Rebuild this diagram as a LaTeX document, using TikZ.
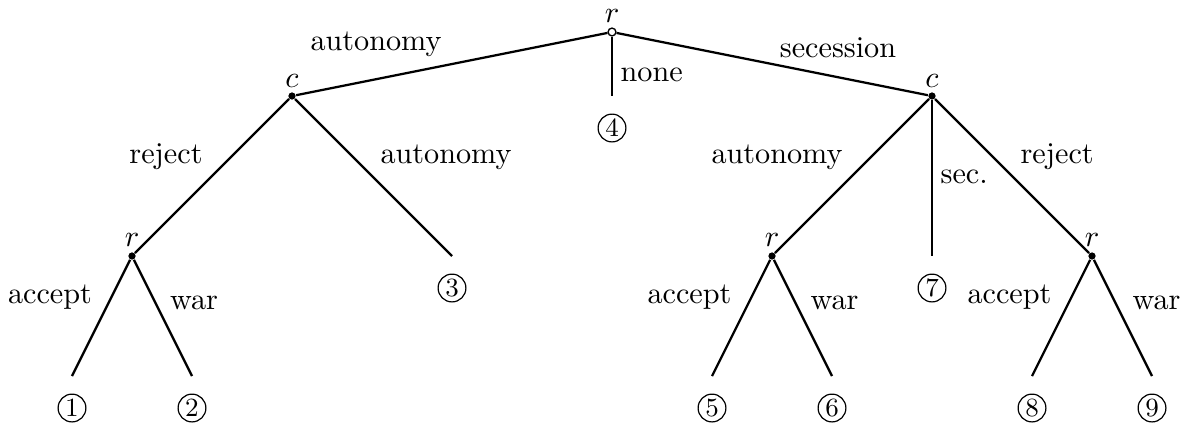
\documentclass[tikz,border=0pt]{standalone}
\begin{document}
\begin{tikzpicture}[x=0.331pt,y=-0.331pt,
  edge/.style={line width=0.75pt},
  dec/.style={circle,fill,inner sep=0pt,minimum size=2.4pt},
  rootdec/.style={circle,draw,fill=white,line width=0.45pt,inner sep=0pt,minimum size=2.6pt},
  pay/.style={circle,draw,line width=0.4pt,inner sep=0pt,minimum size=9.2pt,font=\fontsize{8.7}{9}\selectfont},
  lab/.style={inner sep=0pt}]
\useasboundingbox (0,0) rectangle (1183,427);

% decision nodes
\node[rootdec] (r0) at (612,32) {};
\node[dec] (c1) at (292,96) {};
\node[dec] (c2) at (932,96) {};
\node[dec] (r1) at (132,256) {};
\node[dec] (r2) at (772,256) {};
\node[dec] (r3) at (1092,256) {};

% player names
\node[lab,anchor=base] (n0) at (612,22) {$r$};
\node[lab,anchor=base] (n1) at (292,87) {$c$};
\node[lab,anchor=base] (n2) at (932,87) {$c$};
\node[lab,anchor=base] (n3) at (132,246) {$r$};
\node[lab,anchor=base] (n4) at (772,246) {$r$};
\node[lab,anchor=base] (n5) at (1092,246) {$r$};

% branch ends
\coordinate (e1) at (72,376);
\coordinate (e2) at (192,376);
\coordinate (e3) at (452,256);
\coordinate (e4) at (612,96);
\coordinate (e5) at (712,376);
\coordinate (e6) at (832,376);
\coordinate (e7) at (932,256);
\coordinate (e8) at (1032,376);
\coordinate (e9) at (1152,376);

% outcomes
\node[pay] (o1) at (72,408) {1};
\node[pay] (o2) at (192,408) {2};
\node[pay] (o3) at (452,288) {3};
\node[pay] (o4) at (612,128) {4};
\node[pay] (o5) at (712,408) {5};
\node[pay] (o6) at (832,408) {6};
\node[pay] (o7) at (932,288) {7};
\node[pay] (o8) at (1032,408) {8};
\node[pay] (o9) at (1152,408) {9};

% branches
\draw[edge] (r0) -- (c1);
\draw[edge] (r0) -- (c2);
\draw[edge] (r0) -- (e4);
\draw[edge] (c1) -- (r1);
\draw[edge] (c1) -- (e3);
\draw[edge] (r1) -- (e1);
\draw[edge] (r1) -- (e2);
\draw[edge] (c2) -- (r2);
\draw[edge] (c2) -- (e7);
\draw[edge] (c2) -- (r3);
\draw[edge] (r2) -- (e5);
\draw[edge] (r2) -- (e6);
\draw[edge] (r3) -- (e8);
\draw[edge] (r3) -- (e9);

% actions
\node[lab,anchor=base] (a1) at (376,50) {autonomy};
\node[lab,anchor=base west] (a2) at (620,81) {none};
\node[lab,anchor=base] (a3) at (838,57) {secession};
\node[lab,anchor=base] (a4) at (166,163) {reject};
\node[lab,anchor=base] (a5) at (446,163) {autonomy};
\node[lab,anchor=base] (a6) at (777,163) {autonomy};
\node[lab,anchor=base west] (a7) at (940,183) {sec.};
\node[lab,anchor=base west] (a8) at (1020,163) {reject};
\node[lab,anchor=base] (a9) at (50,303) {accept};
\node[lab,anchor=base] (a10) at (194,309) {war};
\node[lab,anchor=base east] (a11) at (732,303) {accept};
\node[lab,anchor=base west] (a12) at (810,309) {war};
\node[lab,anchor=base east] (a13) at (1052,303) {accept};
\node[lab,anchor=base west] (a14) at (1132,309) {war};
\end{tikzpicture}
\end{document}
